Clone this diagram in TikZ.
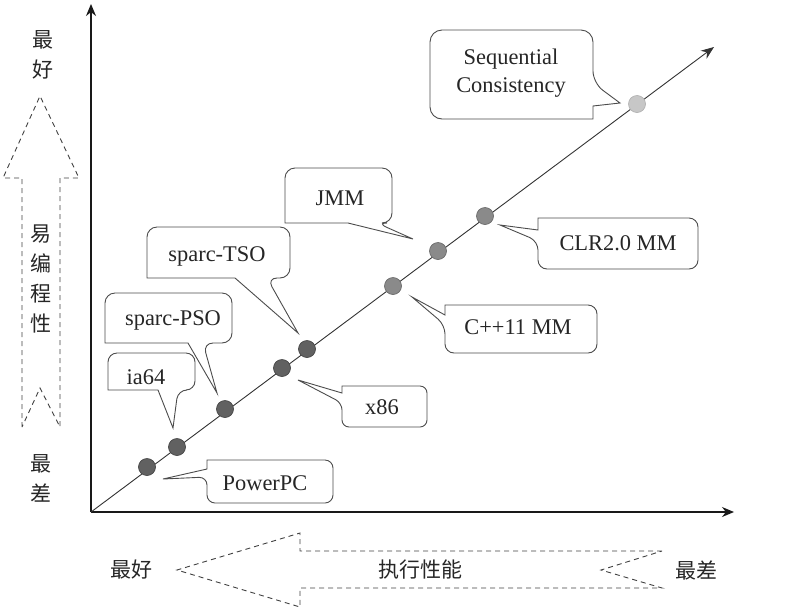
\documentclass[tikz,border=0pt]{standalone}
\usepackage{fontspec}
\setmainfont{Liberation Serif}
\newfontfamily\cjk{Noto Sans CJK SC}
\usetikzlibrary{arrows.meta}
\begin{document}
\begin{tikzpicture}[x=1pt,y=-1pt,
  lbl/.style={font=\fontsize{22.4}{28}\selectfont, text=black!85, inner sep=0pt, text height=14.8pt, text depth=0pt},
  lbltwo/.style={font=\fontsize{22.4}{28}\selectfont, text=black!85, inner sep=0pt, align=center},
  cn/.style={font=\cjk\fontsize{21}{30}\selectfont, text=black!85, inner sep=0pt, align=center},
  callout/.style={draw=black!70, line width=0.9pt, fill=white},
  dotbase/.style={circle, inner sep=0pt, minimum size=17pt, line width=0.7pt},
  dotdark/.style={dotbase, fill=black!62, draw=black!72},
  dotmid/.style={dotbase, fill=black!46, draw=black!58},
  dotlight/.style={dotbase, fill=black!22, draw=black!30},
  dasharrow/.style={draw=black!75, line width=0.9pt, dash pattern=on 5pt off 4pt},
  axis/.style={draw=black!90, line width=1.2pt, -{Stealth[length=12pt,width=10pt]}},
  diag/.style={draw=black!80, line width=0.9pt, -{Stealth[length=13pt,width=10pt]}},
]
\useasboundingbox (0,0) rectangle (787,614);

% axes
\coordinate (O) at (91,512);
\coordinate (yEnd) at (91,4);
\coordinate (xEnd) at (734,512);
\coordinate (dEnd) at (714,47);
\draw[axis] (O) -- (yEnd);
\draw[axis] (O) -- (xEnd);
\draw[diag] (O) -- (dEnd);

% dashed arrows
\draw[dasharrow] (22,427) -- (22,178) -- (3,178) -- (40,96) -- (79,178) -- (60,178) -- (60,427) -- (40,388) -- cycle;
\draw[dasharrow] (662,551) -- (300,551) -- (300,533) -- (177,570) -- (300,607) -- (300,588) -- (662,588) -- (601,570) -- cycle;

% callouts
\draw[callout, rounded corners=12pt] (511,30) -- (593,30) -- (593,83) [sharp corners] -- (620,103) -- (593,106) -- (593,119) [rounded corners=12pt] -- (430,119) -- (430,30) -- cycle;
\draw[callout, rounded corners=9pt] (618,218) -- (698,218) -- (698,269) -- (538,269) -- (538,241) [sharp corners] -- (500,225) -- (538,230) -- (538,218) [rounded corners=9pt] -- cycle;
\draw[callout, rounded corners=10pt] (338,168) -- (392,168) -- (392,223) -- (377,223) [sharp corners] -- (413,239) -- (348,223) -- (285,223) [rounded corners=10pt] -- (285,168) -- cycle;
\draw[callout, rounded corners=9pt] (521,305) -- (597,305) -- (597,353) -- (445,353) -- (445,325) [sharp corners] -- (412,297) -- (445,315) -- (445,305) [rounded corners=9pt] -- cycle;
\draw[callout, rounded corners=7pt] (384,386) -- (427,386) -- (427,427) -- (342,427) -- (342,403) [sharp corners] -- (298,380) -- (342,393) -- (342,386) [rounded corners=7pt] -- cycle;
\draw[callout, rounded corners=10pt] (218,227) -- (290,227) -- (290,278) -- (267,278) [sharp corners] -- (298,333) -- (235,278) -- (147,278) [rounded corners=10pt] -- (147,227) -- cycle;
\draw[callout, rounded corners=10pt] (168,293) -- (232,293) -- (232,343) -- (203,343) [sharp corners] -- (217,393) -- (188,343) -- (105,343) [rounded corners=10pt] -- (105,293) -- cycle;
\draw[callout, rounded corners=9pt] (151,353) -- (195,353) -- (195,390) -- (178,390) [sharp corners] -- (173,428) -- (158,390) -- (108,390) [rounded corners=9pt] -- (108,353) -- cycle;
\draw[callout, rounded corners=8pt] (270,460) -- (333,460) -- (333,503) -- (207,503) -- (207,477) [sharp corners] -- (163,479) -- (207,469) -- (207,460) [rounded corners=8pt] -- cycle;

% labels
\node[lbltwo] (seq) at (511,73) {Sequential\\Consistency};
\node[lbl] (clr) at (618,243) {CLR2.0 MM};
\node[lbl] (jmm) at (340,198) {JMM};
\node[lbl] (cpp) at (518,327) {C++11 MM};
\node[lbl] (x86) at (382,407) {x86};
\node[lbl] (tso) at (217,254) {sparc-TSO};
\node[lbl] (pso) at (173,318) {sparc-PSO};
\node[lbl] (ia) at (146,377) {ia64};
\node[lbl] (ppc) at (265,483) {PowerPC};

% dots
\node[dotlight] (d9) at (637,104) {};
\node[dotmid] (d8) at (485,216) {};
\node[dotmid] (d7) at (438,251) {};
\node[dotmid] (d6) at (393,286) {};
\node[dotdark] (d5) at (307,349) {};
\node[dotdark] (d4) at (282,368) {};
\node[dotdark] (d3) at (225,409) {};
\node[dotdark] (d2) at (177,447) {};
\node[dotdark] (d1) at (147,467) {};

% chinese text
\node[cn] (ybest) at (43,55) {最\\好};
\node[cn] (yname) at (41,279) {易\\编\\程\\性};
\node[cn] (yworst) at (41,478.5) {最\\差};
\node[cn] (xbest) at (131,570) {最好};
\node[cn] (xname) at (420,570) {执行性能};
\node[cn] (xworst) at (696,570) {最差};
\end{tikzpicture}
\end{document}
